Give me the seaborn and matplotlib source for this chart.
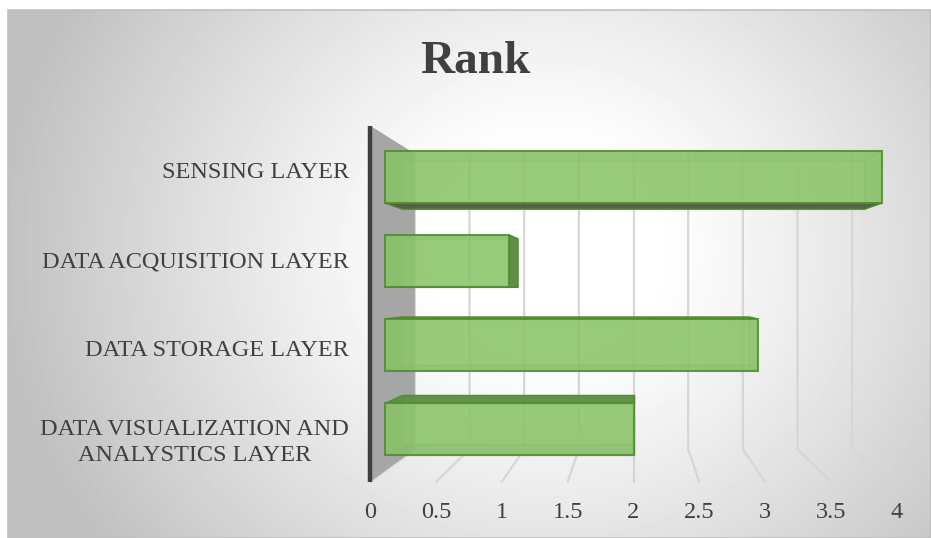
import numpy as np
import matplotlib
matplotlib.use("Agg")
import matplotlib.pyplot as plt
import seaborn as sns
from matplotlib.patches import Polygon, Rectangle

# ---- data ----
categories = ["SENSING LAYER", "DATA ACQUISITION LAYER", "DATA STORAGE LAYER",
              "DATA VISUALIZATION AND\nANALYSTICS LAYER"]
rank = [4, 1, 3, 2]
x_ticks = [0, 0.5, 1, 1.5, 2, 2.5, 3, 3.5, 4]
x_tick_labels = ["0", "0.5", "1", "1.5", "2", "2.5", "3", "3.5", "4"]
chart_title = "Rank"

sns.set_theme(style="white")
plt.rcParams["font.family"] = ["Liberation Serif", "DejaVu Serif"]

W, H = 931, 538
fig = plt.figure(figsize=(W / 100, H / 100), dpi=100, facecolor="white")

# ---- radial-gradient chart area ----
L, T = 8, 10
bg = fig.add_axes([L / W, 0, (W - L) / W, (H - T) / H], zorder=-10)
yy, xx = np.mgrid[T:H, L:W].astype(float)
d = np.hypot(xx - 545, (yy - 250) * 1.1)
t = np.clip((d - 110) / 440, 0, 1)
val = 1 - 0.25 * t ** 1.15
bg.imshow(val, cmap="gray", vmin=0, vmax=1, aspect="auto",
          extent=(0, 1, 0, 1), interpolation="bilinear")
bg.set_axis_off()
fig.add_artist(Rectangle((L / W, 0), (W - L) / W - 0.0005, (H - T) / H,
                         transform=fig.transFigure, fill=False,
                         edgecolor="#bfbfbf", lw=1.2, zorder=-9))

# ---- main axes (bar front plane, 124.25 px per unit, 84 px per row) ----
XL, XR = -0.2, 4.2
PX0, PXU = 385, 124.25
ax = fig.add_axes([(PX0 + XL * PXU) / W, 1 - 471 / H,
                   (XR - XL) * PXU / W, 336 / H])
ax.set_facecolor("none")

sns.barplot(x=rank, y=categories, orient="h", width=0.62, ax=ax,
            color="#8dc56c", edgecolor="#4f8d2c", linewidth=1.5,
            alpha=0.85, saturation=1)
ax.set_xlim(XL, XR)
ax.set_ylim(3.5, -0.5)
for s in ax.spines.values():
    s.set_visible(False)
ax.set_xticks([])
ax.set_yticks([])
ax.set_xlabel("")
ax.set_ylabel("")

# perspective: vanishing point and plane scales
VX, VY = 2.0, 1.35
S_F, S_B, S_BAR = 1.06, 0.88, 0.93
Y0, Y1 = -0.5, 3.5


def proj(x, y, s):
    return VX + s * (x - VX), VY + s * (y - VY)


# back-wall gridlines and floor lines
yb_top = proj(0, Y0, S_B)[1]
yb_bot = proj(0, Y1, S_B)[1]
yf_bot = proj(0, Y1, S_F)[1]
for v in x_ticks:
    xb = proj(v, 0, S_B)[0]
    xf = proj(v, 0, S_F)[0]
    ax.plot([xb, xb, xf], [yb_top, yb_bot, yf_bot], color="#d6d6d6",
            lw=1.6, clip_on=False, zorder=1, solid_joinstyle="miter")

# side wall
xf0, yf0 = proj(0, Y0, S_F)
xb0, _ = proj(0, Y0, S_B)
ax.add_patch(Polygon([(xf0, yf0), (xb0, yb_top), (xb0, yb_bot), (xf0, yf_bot)],
                     closed=True, facecolor="#a6a6a6", edgecolor="none",
                     clip_on=False, zorder=2))
ax.plot([xf0, xf0], [yf0, yf_bot], color="#3f3f3f", lw=3.2,
        clip_on=False, zorder=2.5, solid_capstyle="butt")

# 3-D faces for each bar
for p in list(ax.patches):
    if not isinstance(p, Rectangle) or p.get_width() == 0:
        continue
    x0, y0 = p.get_x(), p.get_y()
    x1, y1 = x0 + p.get_width(), y0 + p.get_height()
    p.set_zorder(6)
    f = {"00": (x0, y0), "10": (x1, y0), "11": (x1, y1), "01": (x0, y1)}
    b = {k: proj(*v, S_BAR) for k, v in f.items()}
    faces = [
        ([b["00"], b["10"], b["11"], b["01"]], False, "#7db85c"),
        ([f["00"], f["10"], b["10"], b["00"]], y0 > VY, "#5e8f42"),
        ([f["01"], f["11"], b["11"], b["01"]], y1 < VY, "#4d5f40"),
        ([f["10"], f["11"], b["11"], b["10"]], x1 < VX, "#5b8a40"),
        ([f["00"], f["01"], b["01"], b["00"]], x0 > VX, "#5b8a40"),
    ]
    for pts, visible, col in faces:
        if visible:
            ax.add_patch(Polygon(pts, closed=True, facecolor=col,
                                 edgecolor="#4f8a30", lw=1.0, alpha=0.95,
                                 clip_on=False, zorder=5))
        else:
            ax.add_patch(Polygon(pts, closed=True, facecolor=col,
                                 edgecolor="#6aa84a", lw=1.0, alpha=0.35,
                                 clip_on=False, zorder=3))

# ---- axis labels on the front plane ----
secx = ax.secondary_xaxis("bottom",
                          functions=(lambda x: (x - VX) / S_F + VX,
                                     lambda u: VX + S_F * (u - VX)))
secx.set_xticks(x_ticks)
secx.set_xticklabels(x_tick_labels)
secx.tick_params(length=0, pad=22, labelsize=17.5, labelcolor="#404040")
for s in secx.spines.values():
    s.set_visible(False)

secy = ax.secondary_yaxis("left",
                          functions=(lambda y: (y - VY) / S_F + VY,
                                     lambda u: VY + S_F * (u - VY)))
secy.set_yticks(range(len(categories)))
secy.set_yticklabels(categories)
secy.tick_params(length=0, pad=8, labelsize=17.5, labelcolor="#404040")
for lbl in secy.get_yticklabels():
    lbl.set_multialignment("center")
    lbl.set_linespacing(1.3)
for s in secy.spines.values():
    s.set_visible(False)

fig.text(475 / W, 1 - 62 / H, chart_title, ha="center", va="center",
         fontsize=34, fontweight="bold", color="#404040")

fig.savefig("out.png", dpi=100, facecolor="white")
